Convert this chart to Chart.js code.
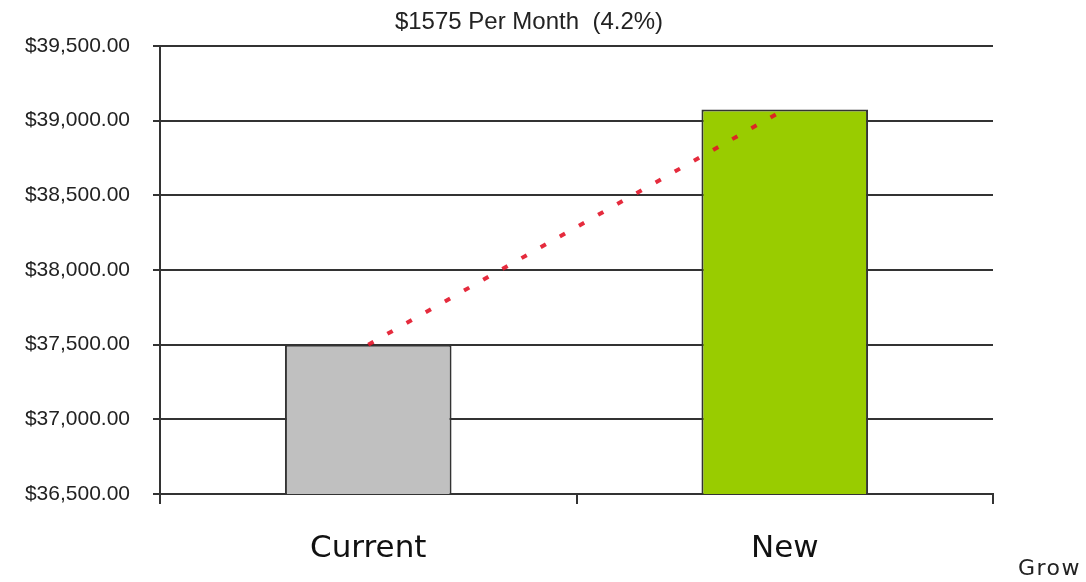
<!DOCTYPE html>
<html>
<head>
<meta charset="utf-8">
<script src="https://cdn.jsdelivr.net/npm/chart.js@4"></script>
<style>
    html, body { margin: 0; padding: 0; background: #fff; overflow: hidden; }
    #wrap { position: relative; width: 1086px; height: 582px; }
    #titulo {
        position: absolute; left: 329px; width: 400px; top: 7px; text-align: center;
        font-family: Arial, "Liberation Sans", sans-serif; font-size: 24px;
        color: #222; white-space: pre;
    }
    #grow {
        position: absolute; left: 1018px; top: 555px;
        font-family: "DejaVu Sans", sans-serif; font-size: 22px;
        letter-spacing: 1.5px; color: #222; white-space: nowrap;
    }
</style>
</head>
<body>
<div id="wrap">
    <canvas id="grafico" width="1086" height="582"></canvas>
    <div id="titulo"></div>
    <div id="grow">Grow</div>
</div>
<script>
const categorias = ["Current", "New"];
const salarios = [37500, 39075];
const tendencia = [37500, 39075];
const titulo = "$1575 Per Month  (4.2%)";
const yMin = 36500;
const yMax = 39500;
const yPaso = 500;

function formatoDinero(v) {
    return "$" + v.toLocaleString("en-US", { minimumFractionDigits: 2, maximumFractionDigits: 2 });
}

document.getElementById("titulo").innerText = titulo;

const ctx = document.getElementById("grafico");

new Chart(ctx, {
    data: {
        labels: categorias,
        datasets: [
            {
                type: 'line',
                data: tendencia,
                borderColor: 'rgba(226, 20, 40, 0.9)',
                borderWidth: 4,
                borderDash: [6, 16],
                pointRadius: 0,
                fill: false,
                order: 0
            },
            {
                type: 'bar',
                data: salarios,
                backgroundColor: ['#c0c0c0', '#99cc00'],
                borderColor: '#333',
                borderWidth: 2,
                categoryPercentage: 0.8,
                barPercentage: 0.5,
                order: 1
            }
        ]
    },
    options: {
        responsive: false,
        animation: false,
        layout: { padding: { top: 46, right: 93, bottom: 0, left: 0 } },
        plugins: {
            legend: { display: false },
            tooltip: { enabled: false }
        },
        scales: {
            x: {
                grid: {
                    offset: true,
                    drawOnChartArea: false,
                    color: '#333',
                    lineWidth: 2,
                    tickLength: 10
                },
                border: { color: '#333', width: 2 },
                ticks: {
                    color: '#111',
                    padding: 26,
                    font: { family: '"DejaVu Sans", sans-serif', size: 31 }
                },
                afterFit: s => { s.height = 88; }
            },
            y: {
                min: yMin,
                max: yMax,
                grid: { color: '#333', lineWidth: 2, tickLength: 7 },
                border: { color: '#333', width: 2 },
                ticks: {
                    stepSize: yPaso,
                    color: '#222',
                    padding: 23,
                    font: { family: 'Arial, "Liberation Sans"', size: 21 },
                    callback: v => formatoDinero(v)
                },
                afterFit: s => { s.width = 160; }
            }
        }
    }
});
</script>
</body>
</html>
